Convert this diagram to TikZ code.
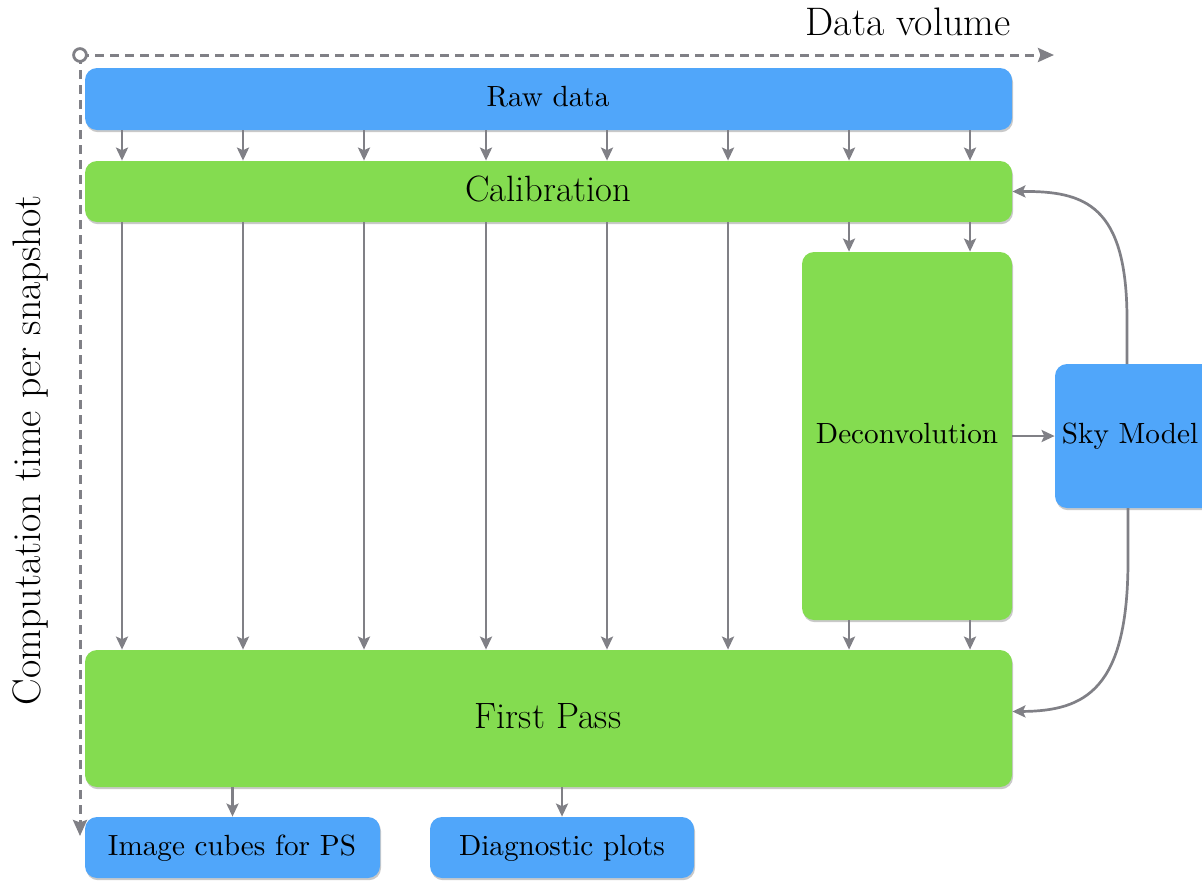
\documentclass[tikz,border=0pt]{standalone}
\usepackage{fontspec}
\newfontfamily\lmten{lmroman10-regular.otf}
\usetikzlibrary{arrows.meta,shadows,fit,calc}
\definecolor{boxblue}{RGB}{80,166,250}
\definecolor{boxgreen}{RGB}{132,220,80}
\definecolor{linegray}{RGB}{128,128,134}
\tikzset{
  box/.style={rectangle, rounded corners=6pt, inner sep=0pt, draw=none,
    drop shadow={shadow xshift=0.5pt, shadow yshift=-1.1pt, opacity=0.3, fill=black!70}},
  bluebox/.style={box, fill=boxblue},
  greenbox/.style={box, fill=boxgreen},
  arr/.style={draw=linegray, line width=1.35pt, -{Stealth[length=6.5pt,width=6pt,inset=1.3pt]}},
  axis/.style={draw=linegray, line width=1.5pt, dash pattern=on 4.5pt off 3pt, -{Stealth[length=8pt,width=7pt,inset=1.2pt]}},
  smalltext/.style={font=\lmten\fontsize{14.6}{17}\selectfont},
  midtext/.style={font=\fontsize{18.3}{21}\selectfont},
  bigtext/.style={font=\fontsize{19.9}{23}\selectfont},
}
\begin{document}
\begin{tikzpicture}[x=0.5pt,y=-0.5pt]
\useasboundingbox (0,0) rectangle (1202,880);
% boxes
\node[bluebox, fit={(85,68) (1012,130)}] (raw) {};
\node[greenbox, fit={(85,161) (1012,222)}] (cal) {};
\node[greenbox, fit={(802,252) (1012,620)}] (dec) {};
\node[greenbox, fit={(85,650) (1012,787)}] (fp) {};
\node[bluebox, fit={(85,817) (380,878)}] (img) {};
\node[bluebox, fit={(430,817) (694,878)}] (diag) {};
\node[bluebox, fit={(1055,364) (1216,508)}] (sky) {};
% texts
\node[smalltext] (rawt) at (548,97) {Raw data};
\node[midtext] (calt) at (548,189) {Calibration};
\node[smalltext] (dect) at (907,434) {Deconvolution};
\node[midtext] (fpt) at (548,716) {First Pass};
\node[smalltext] (imgt) at (232,848) {Image cubes for PS};
\node[smalltext] (diagt) at (562,848) {Diagnostic plots};
\node[smalltext] (skyt) at (1130,436) {Sky Model};
% raw -> calibration
\foreach \x in {122,243,364,486,607,728,849,970}{
  \draw[arr] (raw.south -| {(\x,0)}) -- (cal.north -| {(\x,0)});
}
% calibration -> first pass
\foreach \x in {122,243,364,486,607,728}{
  \draw[arr] (cal.south -| {(\x,0)}) -- (fp.north -| {(\x,0)});
}
% calibration -> deconvolution -> first pass
\foreach \x in {849,970}{
  \draw[arr] (cal.south -| {(\x,0)}) -- (dec.north -| {(\x,0)});
  \draw[arr] (dec.south -| {(\x,0)}) -- (fp.north -| {(\x,0)});
}
% first pass -> outputs
\draw[arr] (fp.south -| img.north) -- (img.north);
\draw[arr] (fp.south -| diag.north) -- (diag.north);
% deconvolution -> sky model
\draw[arr] (dec.east) -- (sky.west |- dec.east);
% sky model -> calibration / first pass
\coordinate (skytop) at (1127,364);
\coordinate (skybot) at (1128,508);
\coordinate (fpin) at ($(fp.east)+(0,-7)$);
\draw[arr] (skytop) -- (1127,320) .. controls (1127,205) and (1085,191) .. (cal.east);
\draw[arr] (skybot) -- (1128,560) .. controls (1128,690) and (1085,711) .. (fpin);
% axes
\coordinate (origin) at (80,55);
\coordinate (xend) at (1054,55);
\coordinate (yend) at (80,836);
\draw[axis] (origin) -- (xend);
\draw[axis] (origin) -- (yend);
\draw[draw=linegray, line width=1.4pt, fill=white] (origin) circle (3.2pt);
\node[bigtext] (xlabel) at (908,22) {Data volume};
\node[bigtext, rotate=90] (ylabel) at (30,450) {Computation time per snapshot};
\end{tikzpicture}
\end{document}
